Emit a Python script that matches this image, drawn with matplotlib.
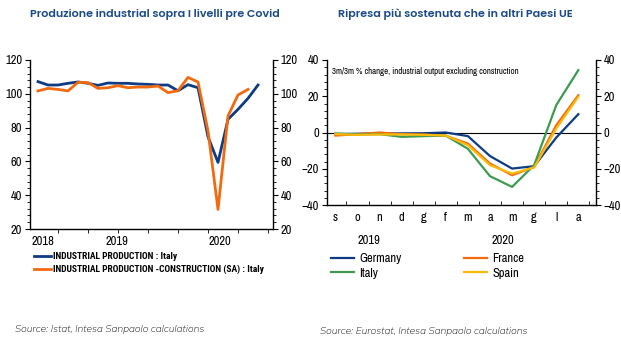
import numpy as np
import matplotlib
matplotlib.use("Agg")
import matplotlib.pyplot as plt
from matplotlib.ticker import AutoMinorLocator

# --------------------------------------------------------------
# Data
# --------------------------------------------------------------
ip_italy = [107.2, 105.2, 105.2, 106.2, 107.0, 106.2, 105.0, 106.4, 106.2, 106.2, 105.8,
            105.6, 105.2, 105.2, 101.8, 105.4, 103.6, 74.6, 59.4, 84.9, 90.8, 97.3, 105.2]
ip_constr_italy = [101.7, 103.2, 102.6, 101.7, 106.8, 106.6, 103.2, 103.6, 104.8, 103.6, 104.0,
                   104.0, 104.6, 100.7, 101.8, 109.7, 107.0, 78.0, 31.6, 86.9, 99.3, 102.6]
years_left = ["2018", "2019", "2020"]

months = ["s", "o", "n", "d", "g", "f", "m", "a", "m", "g", "l", "a"]
years_right = ["2019", "2020"]
germany = [-0.9, -0.7, -0.5, -0.5, -0.4, 0.0, -2.0, -13.0, -19.9, -18.6, -2.8, 10.1]
france = [-1.7, -0.9, 0.0, -0.9, -1.1, -1.8, -6.1, -17.1, -23.6, -19.0, 4.0, 20.6]
italy = [-0.5, -1.1, -0.9, -2.4, -2.0, -1.7, -9.0, -24.1, -30.0, -18.0, 15.1, 34.4]
spain = [-0.9, -1.3, -1.1, -1.1, -1.3, -1.7, -7.0, -18.0, -22.7, -19.3, 2.2, 19.7]

# --------------------------------------------------------------
# Style
# --------------------------------------------------------------
NAVY = "#0d3c84"
ORANGE = "#f26a10"
GREEN = "#3d9a50"
YELLOW = "#f7b90a"
TITLE = "#1b4a8a"

plt.rcParams["font.family"] = ["Archivo Narrow", "DejaVu Sans"]
plt.rcParams["axes.linewidth"] = 1.0

fig = plt.figure(figsize=(6.21, 3.45), dpi=100)

fig.text(155 / 621, 1 - 14 / 345, "Produzione industrial sopra I livelli pre Covid",
         ha="center", va="center", fontsize=8, fontweight=600, color=TITLE, family="Poppins")
fig.text(455 / 621, 1 - 14 / 345, "Ripresa più sostenuta che in altri Paesi UE",
         ha="center", va="center", fontsize=8, fontweight=600, color=TITLE, family="Poppins")

# --------------------------------------------------------------
# Left chart
# --------------------------------------------------------------
ax1 = fig.add_axes([30 / 621, 1 - 229 / 345, 243 / 621, 169 / 345])
x1 = np.arange(len(ip_italy))
x2 = np.arange(len(ip_constr_italy))
l1, = ax1.plot(x1, ip_italy, color=NAVY, lw=2.0)
l2, = ax1.plot(x2, ip_constr_italy, color=ORANGE, lw=2.0)
ax1.set_ylim(20, 120)
ax1.set_xlim(-0.8, 23.5)
ax1.set_yticks(range(20, 121, 20))
ax1.yaxis.set_minor_locator(AutoMinorLocator(5))
ax1.set_xticks(np.arange(2, 24, 3), minor=True)
ax1.set_xticks([0.5, 7.9, 18.2], labels=years_left)
ax1.tick_params(axis="x", which="major", length=0, pad=5, labelsize=9)
ax1.tick_params(axis="x", which="minor", length=3, direction="out")
ax1.tick_params(axis="y", which="both", left=True, right=True, labelleft=True,
                labelright=True, direction="out", labelsize=9, pad=2)
ax1.tick_params(axis="y", which="minor", length=2)
ax1.spines["top"].set_visible(False)

fig.legend([l1, l2], ["INDUSTRIAL PRODUCTION : Italy",
                      "INDUSTRIAL PRODUCTION -CONSTRUCTION (SA) : Italy"],
           loc="upper left", bbox_to_anchor=(34 / 621, 1 - 252 / 345), frameon=False,
           handlelength=1.8, handletextpad=0.25, labelspacing=0.4, borderpad=0,
           borderaxespad=0, prop={"family": "Roboto Condensed", "weight": "bold", "size": 6.8})

# --------------------------------------------------------------
# Right chart
# --------------------------------------------------------------
ax2 = fig.add_axes([327 / 621, 1 - 205 / 345, 269 / 621, 145 / 345])
xm = np.arange(len(months))
lg, = ax2.plot(xm, germany, color=NAVY, lw=1.6)
lf, = ax2.plot(xm, france, color=ORANGE, lw=1.6)
li, = ax2.plot(xm, italy, color=GREEN, lw=1.6)
ls, = ax2.plot(xm, spain, color=YELLOW, lw=1.6)
ax2.axhline(0, color="black", lw=0.8, zorder=0)
ax2.set_ylim(-40, 40)
ax2.set_xlim(-0.38, 11.8)
ax2.set_yticks(range(-40, 41, 20))
ax2.yaxis.set_minor_locator(AutoMinorLocator(5))
ax2.set_xticks(xm, labels=months)
ax2.set_xticks(np.arange(0.5, 12, 1), minor=True)
ax2.tick_params(axis="x", which="major", length=0, pad=5, labelsize=9)
ax2.tick_params(axis="x", which="minor", length=3, direction="in")
ax2.tick_params(axis="y", which="both", left=True, right=True, labelleft=True,
                labelright=True, direction="out", labelsize=9, pad=2)
ax2.tick_params(axis="y", which="minor", length=2)
ax2.spines["top"].set_visible(False)
ax2.text(0.02, 0.92, "3m/3m % change, industrial output excluding construction",
         transform=ax2.transAxes, fontsize=6.4, va="center", ha="left")
for yr, pos in zip(years_right, [1.5, 7.6]):
    ax2.text(pos, -0.245, yr, transform=ax2.get_xaxis_transform(), ha="center",
             va="center", fontsize=9)

fig.legend([lg, li], ["Germany", "Italy"], loc="upper left",
           bbox_to_anchor=(331 / 621, 1 - 253 / 345), frameon=False, fontsize=9,
           handlelength=1.85, handletextpad=0.4, labelspacing=0.3, borderpad=0,
           borderaxespad=0)
fig.legend([lf, ls], ["France", "Spain"], loc="upper left",
           bbox_to_anchor=(464 / 621, 1 - 253 / 345), frameon=False, fontsize=9,
           handlelength=1.85, handletextpad=0.4, labelspacing=0.3, borderpad=0,
           borderaxespad=0)

# --------------------------------------------------------------
# Sources
# --------------------------------------------------------------
fig.text(15 / 621, 1 - 330 / 345, "Source: Istat, Intesa Sanpaolo calculations",
         fontsize=7.3, style="italic", family="Mulish", va="center", color="black")
fig.text(320 / 621, 1 - 331 / 345, "Source: Eurostat, Intesa Sanpaolo calculations",
         fontsize=7.3, style="italic", family="Mulish", va="center", color="black")

fig.savefig("out.png", dpi=100)
